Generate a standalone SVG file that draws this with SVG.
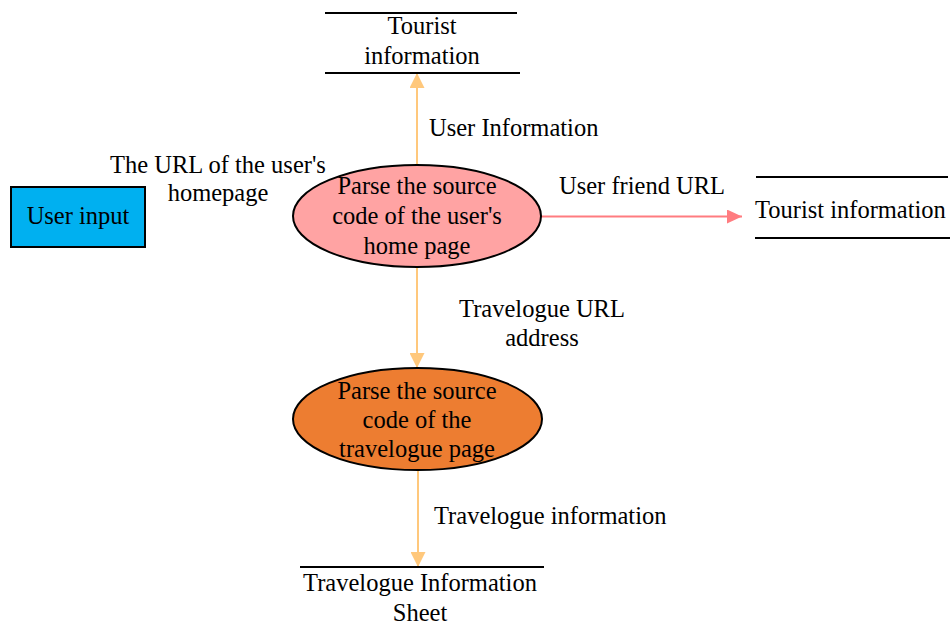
<svg xmlns="http://www.w3.org/2000/svg" width="950" height="626" viewBox="0 0 950 626">
<style>
text{font-family:"Liberation Serif","Times New Roman",serif;font-size:24.5px;fill:#000}
.c{text-anchor:middle}
.store{stroke:#000;stroke-width:2}
.node{stroke:#000;stroke-width:2}
.fo{stroke:#FFC87C;stroke-width:2;fill:none}
.fr{stroke:#FF7C80;stroke-width:2;fill:none}
</style>
<defs>
<marker id="ao" viewBox="0 0 15 15" refX="15" refY="7.5" markerWidth="15" markerHeight="15" markerUnits="userSpaceOnUse" orient="auto"><path d="M0,0 L15,7.5 L0,15 Z" fill="#FFC87C"/></marker>
<marker id="ar" viewBox="0 0 15 14" refX="15" refY="7" markerWidth="15" markerHeight="14" markerUnits="userSpaceOnUse" orient="auto"><path d="M0,0 L15,7 L0,14 Z" fill="#FF7C80"/></marker>
</defs>
<g id="connectors">
<line class="fo" x1="417" y1="166" x2="417" y2="73" marker-end="url(#ao)"/>
<line class="fr" x1="541" y1="216.5" x2="742" y2="216.5" marker-end="url(#ar)"/>
<line class="fo" x1="417" y1="267" x2="417" y2="368" marker-end="url(#ao)"/>
<line class="fo" x1="418" y1="470" x2="418" y2="567" marker-end="url(#ao)"/>
<text class="c" x="218" y="173">The URL of the user's</text>
<text class="c" x="218" y="201">homepage</text>
<text x="429" y="136">User Information</text>
<text x="559" y="194">User friend URL</text>
<text class="c" x="542" y="317">Travelogue URL</text>
<text class="c" x="542" y="346">address</text>
<text x="434" y="524">Travelogue information</text>
</g>
<g id="user-input">
<rect class="node" x="11" y="187" width="134" height="60" fill="#00B0F0"/>
<text class="c" x="78" y="224">User input</text>
</g>
<g id="parse-home">
<ellipse class="node" cx="417" cy="216" rx="124" ry="51" fill="#FFA3A3"/>
<text class="c" x="417" y="194">Parse the source</text>
<text class="c" x="417" y="224">code of the user's</text>
<text class="c" x="417" y="254">home page</text>
</g>
<g id="parse-travelogue">
<ellipse class="node" cx="417.5" cy="419" rx="124.5" ry="51" fill="#ED7D31"/>
<text class="c" x="417" y="399">Parse the source</text>
<text class="c" x="417" y="428">code of the</text>
<text class="c" x="417" y="457">travelogue page</text>
</g>
<g id="store-tourist-top">
<line class="store" x1="325" y1="13" x2="517" y2="13"/>
<line class="store" x1="325" y1="73" x2="520" y2="73"/>
<text class="c" x="422" y="34">Tourist</text>
<text class="c" x="422" y="64">information</text>
</g>
<g id="store-tourist-right">
<line class="store" x1="756" y1="177" x2="948" y2="177"/>
<line class="store" x1="755" y1="238" x2="950" y2="238"/>
<text x="755" y="218">Tourist information</text>
</g>
<g id="store-travelogue">
<line class="store" x1="300" y1="567" x2="544" y2="567"/>
<text class="c" x="420" y="591">Travelogue Information</text>
<text class="c" x="420" y="621">Sheet</text>
</g>
</svg>
